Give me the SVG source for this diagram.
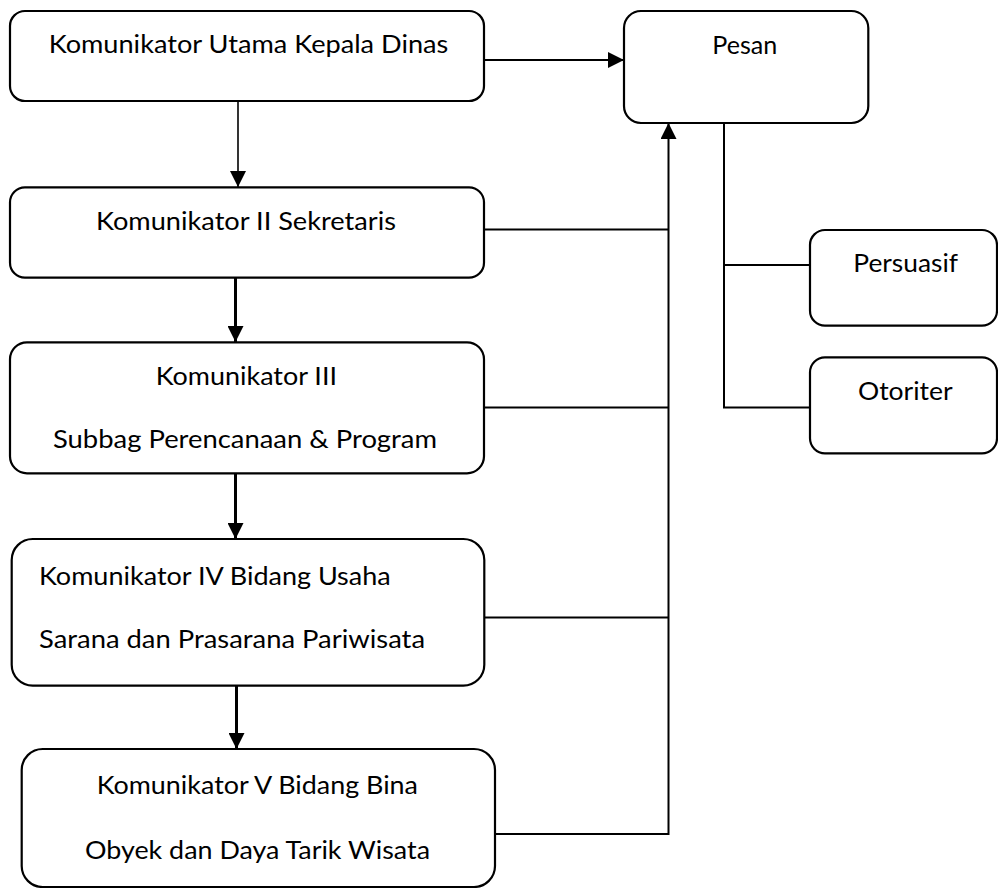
<svg xmlns="http://www.w3.org/2000/svg" width="998" height="888" viewBox="0 0 998 888">
  <style>
    .box { fill: #ffffff; stroke: #000000; stroke-width: 2.2; }
    .lbl { font-family: "Lato", "Open Sans", "Liberation Sans", sans-serif; font-size: 25px; fill: #000000; }
    .wire { fill: none; stroke: #000000; stroke-width: 2; }
    .thin { fill: none; stroke: #000000; stroke-width: 1.6; }
    .thick { fill: none; stroke: #000000; stroke-width: 3; }
  </style>
  <defs>
    <marker id="head" viewBox="0 0 16 16" refX="16" refY="8" markerWidth="16" markerHeight="16" markerUnits="userSpaceOnUse" orient="auto">
      <path d="M0,0 L16,8 L0,16 Z" fill="#000000"/>
    </marker>
  </defs>

  <!-- connectors -->
  <g id="connectors">
    <line class="wire" x1="484" y1="60" x2="624" y2="60" marker-end="url(#head)"/>
    <line class="thin" x1="238" y1="101" x2="238" y2="187" marker-end="url(#head)"/>
    <line class="thick" x1="235.5" y1="278" x2="235.5" y2="342" marker-end="url(#head)"/>
    <line class="thick" x1="235.5" y1="474" x2="235.5" y2="539" marker-end="url(#head)"/>
    <line class="thick" x1="236.5" y1="686" x2="236.5" y2="749" marker-end="url(#head)"/>
    <line class="wire" x1="484" y1="229.5" x2="668.5" y2="229.5"/>
    <line class="wire" x1="484" y1="407.5" x2="668.5" y2="407.5"/>
    <line class="wire" x1="484" y1="617.5" x2="668.5" y2="617.5"/>
    <line class="wire" x1="495" y1="834" x2="668.5" y2="834"/>
    <line class="wire" x1="668.5" y1="835" x2="668.5" y2="123" marker-end="url(#head)"/>
    <polyline class="wire" points="724,123 724,407.5 810,407.5"/>
    <line class="wire" x1="724" y1="265" x2="810" y2="265"/>
  </g>

  <g id="kepala-dinas">
    <rect class="box" x="10" y="11" width="474" height="90" rx="15"/>
    <text class="lbl" x="48.7" y="53.3" textLength="399.6" lengthAdjust="spacingAndGlyphs">Komunikator Utama Kepala Dinas</text>
  </g>

  <g id="sekretaris">
    <rect class="box" x="10" y="187.3" width="474" height="90.4" rx="15"/>
    <text class="lbl" x="96" y="230" textLength="300" lengthAdjust="spacingAndGlyphs">Komunikator II Sekretaris</text>
  </g>

  <g id="subbag-perencanaan">
    <rect class="box" x="10" y="342.3" width="474" height="131" rx="17"/>
    <text class="lbl" x="155.7" y="385" textLength="181.3" lengthAdjust="spacingAndGlyphs">Komunikator III</text>
    <text class="lbl" x="53" y="448.3" textLength="384" lengthAdjust="spacingAndGlyphs">Subbag Perencanaan &amp; Program</text>
  </g>

  <g id="bidang-usaha">
    <rect class="box" x="11.7" y="539" width="472.6" height="146.7" rx="21"/>
    <text class="lbl" x="39" y="585" textLength="351.7" lengthAdjust="spacingAndGlyphs">Komunikator IV Bidang Usaha</text>
    <text class="lbl" x="39" y="647.7" textLength="386" lengthAdjust="spacingAndGlyphs">Sarana dan Prasarana Pariwisata</text>
  </g>

  <g id="bidang-bina">
    <rect class="box" x="21.7" y="749" width="473.3" height="138" rx="21"/>
    <text class="lbl" x="96.7" y="794" textLength="321.3" lengthAdjust="spacingAndGlyphs">Komunikator V Bidang Bina</text>
    <text class="lbl" x="85" y="859.3" textLength="345" lengthAdjust="spacingAndGlyphs">Obyek dan Daya Tarik Wisata</text>
  </g>

  <g id="pesan">
    <rect class="box" x="624" y="11" width="244.3" height="112" rx="17"/>
    <text class="lbl" x="712.3" y="54" textLength="65" lengthAdjust="spacingAndGlyphs">Pesan</text>
  </g>

  <g id="persuasif">
    <rect class="box" x="810" y="230" width="187" height="95.7" rx="15"/>
    <text class="lbl" x="853.3" y="271.7" textLength="104.7" lengthAdjust="spacingAndGlyphs">Persuasif</text>
  </g>

  <g id="otoriter">
    <rect class="box" x="810" y="357.3" width="187" height="96" rx="15"/>
    <text class="lbl" x="858" y="400" textLength="94.7" lengthAdjust="spacingAndGlyphs">Otoriter</text>
  </g>
</svg>
